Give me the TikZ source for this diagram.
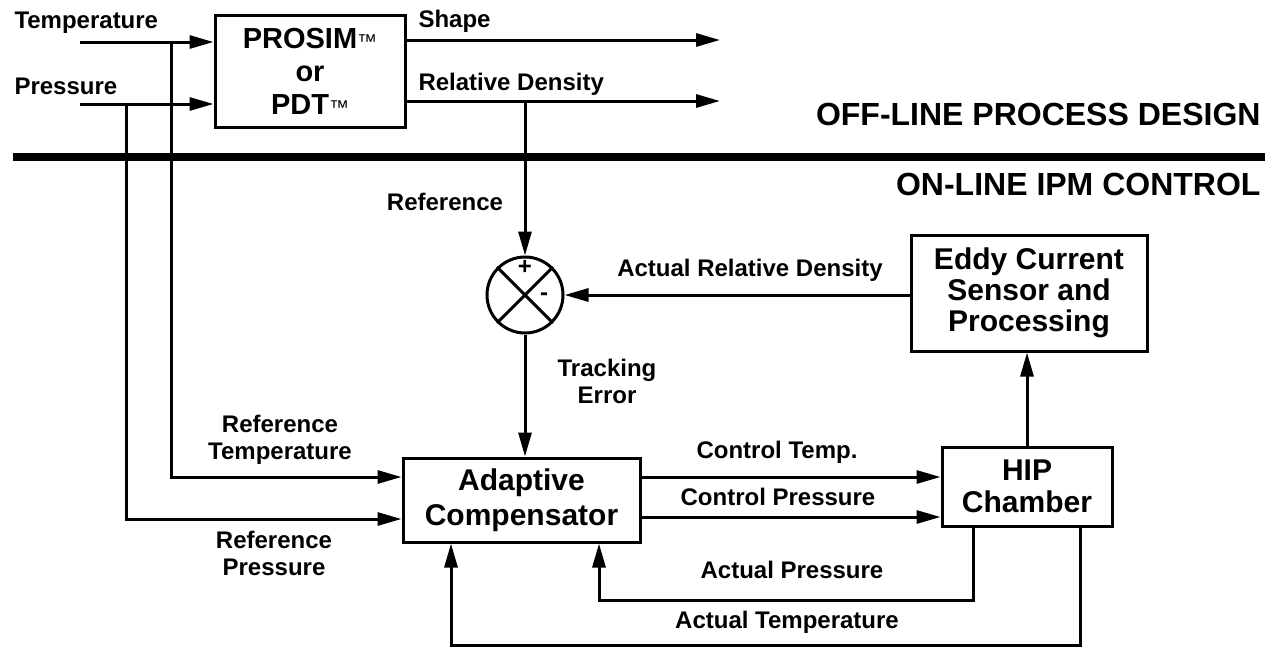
\documentclass[tikz,border=0pt]{standalone}
\usepackage{fontspec}
\setmainfont{Liberation Sans}
\usetikzlibrary{arrows.meta,calc}
\begin{document}
\begin{tikzpicture}[x=1pt,y=-1pt,
  line width=3pt,
  arr/.style={-{Triangle[length=24pt,width=13pt]}},
  blk/.style={draw, line width=3pt, inner sep=0pt, align=center, font=\bfseries\fontsize{30}{32}\selectfont},
  lbl/.style={inner sep=0pt, align=center, font=\bfseries\fontsize{24}{27}\selectfont},
  ttl/.style={inner sep=0pt, font=\bfseries\fontsize{32}{34}\selectfont},
  sgn/.style={inner sep=0pt, font=\bfseries\fontsize{24}{24}\selectfont}
]
\useasboundingbox (0,0) rectangle (1275,651);

% blocks
\node[blk, minimum width=190pt, minimum height=112pt, font=\bfseries\fontsize{29}{33}\selectfont] (prosim) at (310,71)
  {PROSIM{\mdseries\fontsize{20}{20}\selectfont ™}\\or\\PDT{\mdseries\fontsize{20}{20}\selectfont ™}};
\node[blk, minimum width=237pt, minimum height=84pt, font=\bfseries\fontsize{30}{35}\selectfont] (adapt) at (521.5,500) {Adaptive\\Compensator};
\node[blk, minimum width=170pt, minimum height=79pt] (hip) at (1027,486.5) {HIP\\Chamber};
\node[blk, minimum width=236pt, minimum height=116pt, font=\bfseries\fontsize{30}{31}\selectfont] (eddy) at (1029,293) {Eddy Current\\Sensor and\\Processing};
\node[circle, draw, line width=3pt, minimum size=76pt, inner sep=0pt] (sum) at (525,295) {};
\draw (sum.north west) -- (sum.south east);
\draw (sum.north east) -- (sum.south west);
\node[sgn] (plus) at (525,267) {+};
\node[sgn] (minus) at (544,297) {-};

% separator
\draw[line width=8pt] (13,157) -- (1265,157);
\node[ttl, anchor=east] (off) at (1262,114) {OFF-LINE PROCESS DESIGN};
\node[ttl, anchor=east] (on) at (1262,184) {ON-LINE IPM CONTROL};

% coordinates
\coordinate (tin) at (80,42);
\coordinate (pin) at (80,104);
\coordinate (tb) at (171,42);
\coordinate (pb) at (126,104);
\coordinate (shapeEnd) at (720,40);
\coordinate (rdEnd) at (720,101);
\coordinate (rdb) at (525,101);
\coordinate (yrt) at (0,477);
\coordinate (yrp) at (0,519);
\coordinate (yct) at (0,477);
\coordinate (ycp) at (0,517);
\coordinate (yap) at (0,600);
\coordinate (yat) at (0,645);
\coordinate (xap1) at (973,0);
\coordinate (xap2) at (599,0);
\coordinate (xat1) at (1080,0);
\coordinate (xat2) at (451,0);

% connectors
\draw[arr] (tin) -- (tin -| prosim.west);
\draw[arr] (pin) -- (pin -| prosim.west);
\draw[arr] (prosim.east |- shapeEnd) -- (shapeEnd);
\draw[arr] (prosim.east |- rdEnd) -- (rdEnd);
\draw[arr] (rdb) -- (sum.north);
\draw[arr] (tb) |- (adapt.west |- yrt);
\draw[arr] (pb) |- (adapt.west |- yrp);
\draw[arr] (sum.south) -- (sum.south |- adapt.north);
\draw[arr] (eddy.west |- sum.east) -- (sum.east);
\draw[arr] (hip.north) -- (hip.north |- eddy.south);
\draw[arr] (adapt.east |- yct) -- (hip.west |- yct);
\draw[arr] (adapt.east |- ycp) -- (hip.west |- ycp);
\draw[arr] (hip.south -| xap1) |- (xap2 |- yap) -- (adapt.south -| xap2);
\draw[arr] (hip.south -| xat1) |- (xat2 |- yat) -- (adapt.south -| xat2);

% labels
\node[lbl, anchor=west] (ltemp) at (13,23) {Temperature};
\node[lbl, anchor=west] (lpres) at (13,86) {Pressure};
\node[lbl, anchor=west] (lshape) at (417,21) {Shape};
\node[lbl, anchor=west] (lrd) at (417,84) {Relative Density};
\node[lbl] (lref) at (445,202) {Reference};
\node[lbl] (lard) at (750,270) {Actual Relative Density};
\node[lbl] (ltrack) at (607,381) {Tracking\\Error};
\node[lbl] (lreft) at (280,440) {Reference\\Temperature};
\node[lbl] (lrefp) at (274,553) {Reference\\Pressure};
\node[lbl] (lct) at (777,452) {Control Temp.};
\node[lbl] (lcp) at (778,497) {Control Pressure};
\node[lbl] (lap) at (792,570) {Actual Pressure};
\node[lbl] (lat) at (787,622) {Actual Temperature};
\end{tikzpicture}
\end{document}
